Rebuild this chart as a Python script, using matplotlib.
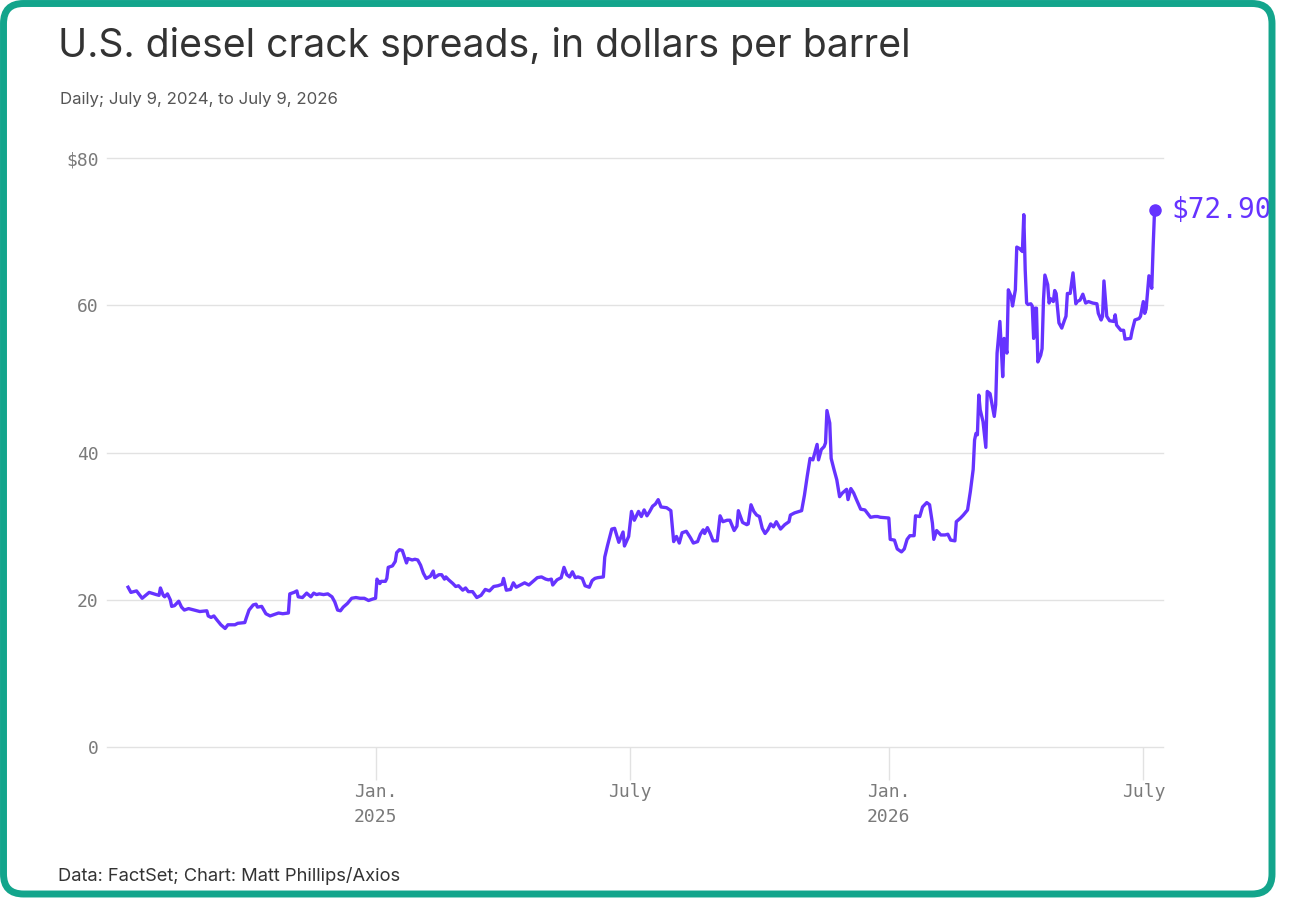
"""
U.S. diesel crack spreads, daily, July 2024 - July 2026 (Axios style line chart).
Output: out.png
"""
import pandas as pd
import matplotlib
matplotlib.use("Agg")
import matplotlib.pyplot as plt
from matplotlib.patches import FancyBboxPatch, Rectangle

# values ($ per barrel)
dates_2024 = [
    "2024-07-09", "2024-07-11", "2024-07-15", "2024-07-19", "2024-07-24", "2024-07-29",
    "2024-07-31", "2024-08-01", "2024-08-03", "2024-08-04", "2024-08-06", "2024-08-08",
    "2024-08-09", "2024-08-11", "2024-08-14", "2024-08-16", "2024-08-18", "2024-08-21",
    "2024-08-25", "2024-08-29", "2024-09-03", "2024-09-04", "2024-09-06", "2024-09-08",
    "2024-09-10", "2024-09-13", "2024-09-16", "2024-09-18", "2024-09-23", "2024-09-25",
    "2024-09-30", "2024-10-01", "2024-10-03", "2024-10-06", "2024-10-08", "2024-10-09",
    "2024-10-12", "2024-10-15", "2024-10-18", "2024-10-21", "2024-10-24", "2024-10-27",
    "2024-10-31", "2024-11-01", "2024-11-04", "2024-11-06", "2024-11-07", "2024-11-10",
    "2024-11-13", "2024-11-16", "2024-11-18", "2024-11-20", "2024-11-22", "2024-11-25",
    "2024-11-28", "2024-12-01", "2024-12-03", "2024-12-05", "2024-12-07", "2024-12-09",
    "2024-12-12", "2024-12-15", "2024-12-18", "2024-12-21", "2024-12-24", "2024-12-27",
    "2024-12-30",
]
spread_2024 = [
    21.7, 21.0, 21.2, 20.2, 21.0, 20.7,
    20.6, 21.6, 20.6, 20.4, 20.8, 20.0,
    19.1, 19.2, 19.8, 19.0, 18.6, 18.8,
    18.6, 18.4, 18.5, 17.8, 17.6, 17.8,
    17.3, 16.6, 16.1, 16.6, 16.6, 16.8,
    16.9, 17.5, 18.6, 19.3, 19.4, 19.0,
    19.1, 18.1, 17.8, 18.0, 18.2, 18.1,
    18.2, 20.8, 21.0, 21.2, 20.4, 20.3,
    20.9, 20.4, 20.9, 20.7, 20.8, 20.7,
    20.8, 20.4, 19.7, 18.6, 18.5, 19.0,
    19.5, 20.2, 20.3, 20.2, 20.2, 19.9,
    20.1,
]

dates_2025 = [
    "2025-01-01", "2025-01-02", "2025-01-04", "2025-01-05", "2025-01-08", "2025-01-09",
    "2025-01-10", "2025-01-13", "2025-01-15", "2025-01-16", "2025-01-18", "2025-01-20",
    "2025-01-23", "2025-01-24", "2025-01-27", "2025-01-29", "2025-01-31", "2025-02-02",
    "2025-02-04", "2025-02-06", "2025-02-09", "2025-02-11", "2025-02-12", "2025-02-15",
    "2025-02-17", "2025-02-19", "2025-02-20", "2025-02-22", "2025-02-25", "2025-02-27",
    "2025-03-01", "2025-03-04", "2025-03-06", "2025-03-08", "2025-03-11", "2025-03-14",
    "2025-03-17", "2025-03-20", "2025-03-23", "2025-03-26", "2025-03-29", "2025-04-01",
    "2025-04-02", "2025-04-04", "2025-04-07", "2025-04-09", "2025-04-11", "2025-04-14",
    "2025-04-17", "2025-04-20", "2025-04-23", "2025-04-26", "2025-04-29", "2025-05-02",
    "2025-05-04", "2025-05-06", "2025-05-07", "2025-05-10", "2025-05-13", "2025-05-15",
    "2025-05-17", "2025-05-19", "2025-05-21", "2025-05-23", "2025-05-25", "2025-05-28",
    "2025-05-30", "2025-06-02", "2025-06-04", "2025-06-06", "2025-06-08", "2025-06-12",
    "2025-06-13", "2025-06-15", "2025-06-18", "2025-06-20", "2025-06-23", "2025-06-26",
    "2025-06-27", "2025-06-30", "2025-07-02", "2025-07-04", "2025-07-07", "2025-07-09",
    "2025-07-11", "2025-07-13", "2025-07-15", "2025-07-17", "2025-07-19", "2025-07-21",
    "2025-07-23", "2025-07-27", "2025-07-30", "2025-08-01", "2025-08-03", "2025-08-05",
    "2025-08-07", "2025-08-10", "2025-08-13", "2025-08-15", "2025-08-18", "2025-08-20",
    "2025-08-22", "2025-08-23", "2025-08-25", "2025-08-27", "2025-08-29", "2025-09-01",
    "2025-09-03", "2025-09-05", "2025-09-08", "2025-09-10", "2025-09-13", "2025-09-15",
    "2025-09-16", "2025-09-19", "2025-09-22", "2025-09-23", "2025-09-25", "2025-09-27",
    "2025-09-29", "2025-10-01", "2025-10-03", "2025-10-05", "2025-10-07", "2025-10-09",
    "2025-10-11", "2025-10-13", "2025-10-16", "2025-10-19", "2025-10-22", "2025-10-23",
    "2025-10-26", "2025-10-31", "2025-11-02", "2025-11-04", "2025-11-06", "2025-11-08",
    "2025-11-11", "2025-11-12", "2025-11-14", "2025-11-16", "2025-11-17", "2025-11-18",
    "2025-11-20", "2025-11-21", "2025-11-23", "2025-11-25", "2025-11-27", "2025-11-29",
    "2025-12-02", "2025-12-03", "2025-12-05", "2025-12-07", "2025-12-09", "2025-12-12",
    "2025-12-15", "2025-12-17", "2025-12-19", "2025-12-22", "2025-12-24", "2025-12-26",
]
spread_2025 = [
    20.2, 22.8, 22.2, 22.5, 22.5, 22.9,
    24.4, 24.6, 25.2, 26.4, 26.8, 26.7,
    25.0, 25.6, 25.4, 25.5, 25.4, 24.7,
    23.6, 22.9, 23.2, 23.9, 23.0, 23.4,
    23.4, 22.8, 23.1, 22.7, 22.2, 21.8,
    21.9, 21.3, 21.6, 21.1, 21.1, 20.3,
    20.6, 21.4, 21.2, 21.8, 21.9, 22.1,
    22.9, 21.3, 21.4, 22.3, 21.7, 22.0,
    22.3, 22.0, 22.5, 23.0, 23.1, 22.8,
    22.7, 22.8, 22.0, 22.7, 23.0, 24.4,
    23.4, 23.1, 23.8, 23.0, 23.1, 22.9,
    21.9, 21.7, 22.6, 22.9, 23.0, 23.1,
    25.8, 27.4, 29.6, 29.7, 27.8, 29.2,
    27.3, 28.6, 32.0, 30.8, 32.0, 31.3,
    32.2, 31.4, 32.0, 32.7, 33.0, 33.6,
    32.6, 32.5, 32.1, 27.9, 28.6, 27.7,
    29.1, 29.3, 28.4, 27.7, 27.9, 28.9,
    29.5, 29.0, 29.8, 29.0, 28.0, 28.0,
    31.4, 30.6, 30.8, 30.8, 29.4, 30.0,
    32.1, 30.5, 30.2, 30.3, 32.9, 32.0,
    31.5, 31.3, 29.7, 29.0, 29.5, 30.3,
    29.9, 30.6, 29.6, 30.2, 30.6, 31.5,
    31.8, 32.1, 34.2, 36.8, 39.2, 39.0,
    41.1, 39.0, 40.4, 40.8, 41.3, 45.7,
    44.0, 39.2, 37.7, 36.3, 34.0, 34.5,
    35.0, 33.6, 35.1, 34.5, 33.6, 32.3,
    32.2, 31.7, 31.2, 31.3, 31.3, 31.2,
]

dates_2026 = [
    "2026-01-01", "2026-01-02", "2026-01-05", "2026-01-07", "2026-01-10", "2026-01-12",
    "2026-01-14", "2026-01-16", "2026-01-19", "2026-01-20", "2026-01-23", "2026-01-25",
    "2026-01-28", "2026-01-30", "2026-02-01", "2026-02-02", "2026-02-04", "2026-02-07",
    "2026-02-10", "2026-02-12", "2026-02-14", "2026-02-17", "2026-02-18", "2026-02-21",
    "2026-02-23", "2026-02-26", "2026-02-28", "2026-03-02", "2026-03-03", "2026-03-04",
    "2026-03-05", "2026-03-06", "2026-03-07", "2026-03-09", "2026-03-11", "2026-03-12",
    "2026-03-14", "2026-03-17", "2026-03-18", "2026-03-19", "2026-03-21", "2026-03-22",
    "2026-03-23", "2026-03-24", "2026-03-26", "2026-03-27", "2026-03-29", "2026-03-30",
    "2026-04-01", "2026-04-02", "2026-04-04", "2026-04-06", "2026-04-07", "2026-04-08",
    "2026-04-09", "2026-04-10", "2026-04-12", "2026-04-13", "2026-04-14", "2026-04-15",
    "2026-04-16", "2026-04-17", "2026-04-19", "2026-04-20", "2026-04-21", "2026-04-22",
    "2026-04-24", "2026-04-25", "2026-04-26", "2026-04-28", "2026-04-29", "2026-04-30",
    "2026-05-01", "2026-05-02", "2026-05-04", "2026-05-06", "2026-05-07", "2026-05-08",
    "2026-05-10", "2026-05-12", "2026-05-14", "2026-05-15", "2026-05-17", "2026-05-19",
    "2026-05-21", "2026-05-23", "2026-05-26", "2026-05-29", "2026-05-30", "2026-06-01",
    "2026-06-02", "2026-06-03", "2026-06-05", "2026-06-07", "2026-06-10", "2026-06-11",
    "2026-06-12", "2026-06-15", "2026-06-17", "2026-06-18", "2026-06-22", "2026-06-23",
    "2026-06-25", "2026-06-28", "2026-06-29", "2026-07-01", "2026-07-02", "2026-07-03",
    "2026-07-05", "2026-07-07", "2026-07-08", "2026-07-09",
]
spread_2026 = [
    31.1, 28.2, 28.1, 26.9, 26.5, 26.9,
    28.2, 28.7, 28.7, 31.4, 31.3, 32.6,
    33.2, 32.9, 30.4, 28.2, 29.4, 28.8,
    28.8, 28.9, 28.1, 28.0, 30.6, 31.1,
    31.5, 32.2, 34.7, 37.7, 41.7, 42.6,
    42.4, 47.8, 45.8, 44.2, 40.7, 48.3,
    48.0, 44.9, 46.5, 53.5, 57.8, 54.2,
    50.3, 55.5, 53.5, 62.1, 61.2, 59.9,
    62.1, 67.9, 67.7, 67.3, 72.3, 64.8,
    60.3, 60.1, 60.2, 59.9, 55.5, 59.6,
    59.6, 52.3, 53.2, 54.1, 60.7, 64.1,
    62.8, 60.3, 60.9, 60.5, 62.0, 61.6,
    59.6, 57.6, 56.9, 58.0, 58.5, 61.6,
    61.6, 64.4, 60.2, 60.5, 60.7, 61.5,
    60.3, 60.5, 60.3, 60.2, 58.9, 58.0,
    58.5, 63.3, 58.5, 57.9, 57.8, 58.7,
    57.3, 56.6, 56.6, 55.4, 55.5, 56.5,
    58.0, 58.2, 58.5, 60.5, 58.9, 59.5,
    64.0, 62.3, 68.0, 72.9,
]

y_ticks = [0, 20, 40, 60, 80]
y_labels = ["0", "20", "40", "60", "$80"]
x_ticks = ["2025-01-01", "2025-07-01", "2026-01-01", "2026-07-01"]
x_labels = ["Jan.\n2025", "July", "Jan.\n2026", "July"]

LINE = "#6633ff"
TEAL = "#13a58c"
GRID = "#e2e2e2"
TICK_TXT = "#7a7a7a"
MONO = "DejaVu Sans Mono"
SANS = "Inter"

dates = pd.to_datetime(dates_2024 + dates_2025 + dates_2026)
spread = spread_2024 + spread_2025 + spread_2026

W, H = 1292, 902
fig = plt.figure(figsize=(W / 100, H / 100), dpi=100)
fig.patch.set_facecolor("white")

ax = fig.add_axes([107 / W, (H - 747) / H, (1163 - 107) / W, (747 - 158) / H])
ax.plot(dates, spread, color=LINE, linewidth=2.4, solid_joinstyle="round", zorder=3)

# end point + value label
ax.plot(dates[-1], spread[-1], "o", color=LINE, markersize=8, zorder=4, clip_on=False)
ax.annotate(f"${spread[-1]:.2f}", (dates[-1], spread[-1]), xytext=(12, 0),
            textcoords="offset points", ha="left", va="center",
            fontsize=20, family=MONO, color=LINE, annotation_clip=False)

ax.set_xlim(pd.Timestamp("2024-06-24"), pd.Timestamp("2026-07-15"))
ax.set_ylim(0, 80)
ax.set_yticks(y_ticks)
ax.set_yticklabels(y_labels)
ax.set_xticks(pd.to_datetime(x_ticks))
ax.set_xticklabels(x_labels, linespacing=1.5)

ax.grid(axis="y", color=GRID, linewidth=1)
for gl in ax.get_ygridlines():
    gl.set_clip_on(False)
ax.set_axisbelow(True)
for s in ax.spines.values():
    s.set_visible(False)
ax.tick_params(axis="y", length=0, pad=6, labelsize=13, labelcolor=TICK_TXT)
ax.tick_params(axis="x", length=24, width=1, color=GRID, pad=2,
               labelsize=13, labelcolor=TICK_TXT)
for lbl in ax.get_xticklabels() + ax.get_yticklabels():
    lbl.set_family(MONO)

# titles and credit
fig.text(58 / W, 1 - 57 / H, "U.S. diesel crack spreads, in dollars per barrel",
         fontsize=28.2, family=SANS, color="#333333", va="baseline")
fig.text(60 / W, 1 - 104 / H, "Daily; July 9, 2024, to July 9, 2026",
         fontsize=12.1, family=SANS, color="#555555", va="baseline")
fig.text(58 / W, 1 - 881 / H, "Data: FactSet; Chart: Matt Phillips/Axios",
         fontsize=13.2, family=SANS, color="#333333", va="baseline")

# rounded teal frame on top of everything
ov = fig.add_axes([0, 0, 1, 1], zorder=10)
ov.set_xlim(0, W)
ov.set_ylim(H, 0)
ov.axis("off")
ov.add_patch(Rectangle((1276, 0), W - 1276, H, color="white", lw=0))
ov.add_patch(Rectangle((0, 897), W, H - 897, color="white", lw=0))
ov.add_patch(FancyBboxPatch((3.5, 3.5), 1272 - 3.5, 894 - 3.5,
                            boxstyle="round,pad=0,rounding_size=20",
                            fill=False, ec=TEAL, lw=5))

fig.savefig("out.png", dpi=100, facecolor="white")
